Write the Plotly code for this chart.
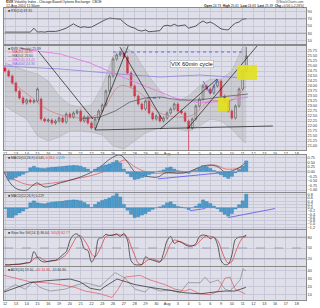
import plotly.graph_objects as go

W, H = 320, 308
L_M, R_M = 4, 14
PW = W - L_M - R_M

# ---------------- data ----------------
day_labels = ["12", "13", "14", "15", "16", "19", "20", "21", "22", "23", "26", "27", "28", "29", "30",
              "Aug", "3", "4", "5", "6", "9", "10", "11", "12", "13", "16", "17", "18"]

close = [24.75, 24.50, 24.15, 23.75, 23.40, 23.15, 23.30, 23.20, 23.25, 23.85,
         22.35, 22.25, 22.30, 22.15, 22.25, 22.40, 22.20, 22.60, 22.45, 22.65,
         22.75, 22.25, 22.45, 22.15, 21.90, 22.35, 22.75, 23.05, 23.75, 24.50,
         25.35, 25.55, 25.65, 25.45, 24.65, 24.00, 23.50, 23.10, 22.85, 23.25,
         22.65, 22.35, 22.50, 22.25, 22.40, 22.65, 22.85, 23.10, 22.75, 22.65,
         22.25, 21.90, 22.35, 23.00, 23.35, 24.00, 23.85, 23.65, 24.00, 24.25,
         23.50, 23.25, 22.75, 22.40, 23.00, 23.85, 24.75, 25.50]
first_open = 24.90
gap_open = {10: 23.35}
low_override = {51: 20.70}
high_override = {67: 25.95}
wick = 0.08

band_x = list(range(0, 67, 3)) + [67]
band_upper = [25.15, 24.95, 24.75, 24.60, 24.25, 23.50, 23.05, 22.95, 23.05, 24.00, 25.50, 25.95,
              25.65, 24.75, 24.00, 23.35, 23.25, 23.50, 24.00, 24.35, 24.35, 24.75, 25.95, 26.10]
band_lower = [23.00, 22.65, 22.35, 21.50, 21.25, 21.45, 21.75, 21.75, 21.70, 21.55, 21.00, 20.85,
              21.25, 21.65, 21.85, 21.95, 21.85, 21.75, 22.00, 22.35, 22.25, 21.85, 21.25, 21.15]

ma_pink_x = [4.2, 6.9, 15.3, 23.6, 31.9, 40.3, 47.2, 54.2, 61.1, 67.5]
ma_pink = [25.90, 25.80, 25.60, 25.15, 24.50, 23.90, 23.40, 23.15, 23.25, 23.45]
ma_lav_x = [-0.3, 15.3, 31.9, 43.1, 54.2, 62.5, 67.5]
ma_lav = [25.00, 24.85, 24.60, 24.45, 24.55, 24.45, 24.35]
ma_gray_x = [20.8, 26.4, 30.6, 34.7, 38.9, 43.1, 48.6, 54.2, 59.7, 67.5]
ma_gray = [22.35, 22.45, 22.75, 23.20, 23.40, 23.45, 23.30, 23.30, 23.45, 23.60]
ma_red_x = [1.4, 6.9, 12.5, 20.8, 26.4, 31.9, 37.5, 43.1, 51.4, 56.9, 62.5, 66.9]
ma_red = [24.25, 23.50, 22.75, 22.40, 22.65, 24.00, 23.65, 22.65, 22.50, 23.25, 23.25, 24.00]

rsi = [33, 33, 32, 31, 31, 32, 33, 33, 44, 33, 34, 33, 35, 34, 35, 37, 40, 44, 50, 56,
       50, 46, 48, 46, 47, 53, 58, 63, 68, 72, 71, 69, 69, 60, 52, 47, 44, 38, 36, 39,
       34, 35, 36, 37, 50, 52, 50, 55, 50, 52, 53, 44, 48, 50, 58, 64, 58, 61, 56, 48,
       42, 40, 39, 50, 58, 61, 69, 70]

macd_x = [-0.3, 1.4, 2.8, 4.2, 6.1, 7.8, 8.9, 11.1, 15.3, 19.4, 23.6, 26.4, 29.2, 31.9, 34.2,
          36.1, 38.9, 42.5, 44.4, 48.6, 50.8, 54.2, 56.9, 59.2, 61.1, 63.1, 65.3, 66.9]
macd = [-0.02, -0.61, -0.88, -0.99, -0.99, -0.72, -0.61, -0.83, -0.61, -0.39, -0.07, 0.25, 0.69,
        0.90, 0.47, -0.02, -0.23, -0.29, -0.07, -0.07, -0.02, 0.25, 0.36, 0.25, -0.02, 0.04, 0.25, 0.52]
signal_x = [-0.3, 2.8, 6.9, 11.1, 15.3, 19.4, 23.6, 27.8, 31.4, 33.3, 36.1, 40.3, 44.4, 50.0,
            54.2, 58.3, 61.1, 63.9, 66.9]
signal = [-0.02, -0.45, -0.72, -0.66, -0.56, -0.39, -0.23, 0.04, 0.47, 0.63, 0.25, -0.07, -0.07,
          -0.07, 0.20, 0.36, 0.15, 0.15, 0.31]

hist = [-0.05, -0.60, -0.60, -0.45, -0.32, -0.20, -0.05, 0.30, 0.42, 0.30,
        0.26, 0.24, 0.30, 0.34, 0.36, 0.38, 0.40, 0.44, 0.46, 0.48,
        0.47, 0.42, 0.32, 0.20, 0.02, 0.20, 0.34, 0.45, 0.52, 0.60,
        0.72, 0.86, 0.66, 0.20, -0.15, -0.40, -0.60, -0.55, -0.45, -0.36,
        -0.22, -0.10, 0.00, 0.06, 0.14, 0.30, 0.36, 0.20, 0.08, 0.04,
        -0.02, -0.12, 0.00, 0.10, 0.24, 0.48, 0.38, 0.26, 0.10, -0.06,
        -0.24, -0.40, -0.52, -0.36, -0.08, 0.18, 0.42, 0.83]

stoch_k = [3, 3, 4, 5, 5, 7, 9, 11, 40, 24, 14, 11, 13, 15, 16, 22, 31, 40, 70, 86,
           89, 78, 48, 43, 11, 27, 76, 79, 88, 85, 86, 89, 82, 90, 72, 15, 4, 3, 4, 25,
           20, 16, 13, 11, 35, 70, 82, 63, 68, 66, 59, 55, 56, 62, 82, 86, 84, 76, 80, 60,
           15, 4, 5, 30, 74, 80, 81, 86]
stoch_d = [4, 3, 4, 4, 5, 6, 8, 10, 20, 25, 22, 15, 12, 14, 15, 18, 24, 32, 48, 66,
           82, 84, 72, 56, 34, 26, 40, 62, 82, 85, 86, 87, 86, 86, 80, 55, 30, 8, 4, 12,
           18, 20, 16, 13, 20, 40, 62, 72, 70, 66, 62, 58, 56, 58, 68, 78, 84, 82, 80, 72,
           48, 22, 8, 12, 38, 62, 78, 82]

pdi_x = [-0.3, 4.2, 6.9, 11.1, 15.3, 19.4, 22.2, 26.4, 29.7, 31.4, 33.3, 37.5, 40.3, 44.4,
         47.2, 50.0, 51.4, 54.2, 56.9, 59.2, 61.1, 62.5, 63.9, 66.7]
pdi = [34.4, 29.7, 26.2, 25.0, 22.6, 19.1, 14.4, 10.9, 6.2, 16.8, 32.1, 34.4, 28.5, 22.6,
       16.8, 14.4, 16.8, 10.9, 9.7, 14.4, 30.9, 32.1, 16.8, 10.9]
adx_x = [-0.3, 4.2, 6.9, 11.1, 15.3, 18.1, 20.8, 23.6, 26.4, 27.8, 31.1, 33.3, 36.1, 40.3,
         44.4, 47.2, 50.0, 54.2, 58.3, 61.1, 63.9, 66.9]
adx = [13.2, 20.3, 25.0, 27.4, 28.5, 29.7, 26.2, 18.0, 15.6, 20.3, 29.7, 26.2, 22.6, 19.1,
       16.8, 14.4, 12.1, 10.9, 13.2, 14.4, 14.4, 19.1]
mdi_x = [-0.3, 2.8, 5.6, 7.8, 9.7, 12.5, 16.7, 19.4, 22.2, 26.4, 29.2, 30.6, 33.3, 36.1, 38.9,
         40.3, 43.1, 45.8, 48.6, 50.8, 54.2, 55.6, 56.9, 59.2, 61.1, 62.5, 65.3, 66.1, 66.9]
mdi = [14.4, 22.6, 16.8, 26.2, 19.1, 14.4, 16.8, 21.5, 25.0, 20.3, 32.1, 37.9, 30.9, 16.8, 13.2,
       19.1, 14.4, 15.6, 12.1, 25.0, 25.0, 32.1, 25.0, 28.5, 16.8, 14.4, 28.5, 42.6, 40.3]

# ---------------- derived candle OHLC ----------------
bars = list(range(len(close)))
open_ = [first_open] + close[:-1]
for k, v in gap_open.items():
    open_[k] = v
high = [max(o, c) + wick for o, c in zip(open_, close)]
low = [min(o, c) - wick for o, c in zip(open_, close)]
for k, v in low_override.items():
    low[k] = v
for k, v in high_override.items():
    high[k] = v

tick_idx = [3 * k for k in range(len(day_labels))]
XR = [-0.3, 83.6]


def py(px):
    return 1 - px / H


def pxx(px):
    return (px - L_M) / PW


BG = "#dfdfea"
GRID = "#c8c8d8"
TF = dict(size=3.8, color="#333333", family="Arial")

fig = go.Figure()

# RSI panel
fig.add_trace(go.Scatter(x=bars, y=rsi, mode="lines", line=dict(color="#333333", width=0.8),
                         xaxis="x", yaxis="y"))

# main panel
fig.add_trace(go.Scatter(x=band_x, y=band_upper, mode="lines", line=dict(color="#a8a8a8", width=0.5),
                         xaxis="x2", yaxis="y2"))
fig.add_trace(go.Scatter(x=band_x, y=band_lower, mode="lines", line=dict(color="#a8a8a8", width=0.5),
                         fill="tonexty", fillcolor="rgba(170,170,170,0.35)", xaxis="x2", yaxis="y2"))
fig.add_trace(go.Scatter(x=ma_lav_x, y=ma_lav, mode="lines", line=dict(color="#9a8ae0", width=0.9),
                         xaxis="x2", yaxis="y2"))
fig.add_trace(go.Scatter(x=ma_pink_x, y=ma_pink, mode="lines", line=dict(color="#e27be2", width=0.9),
                         xaxis="x2", yaxis="y2"))
fig.add_trace(go.Scatter(x=ma_gray_x, y=ma_gray, mode="lines", line=dict(color="#606060", width=0.8),
                         xaxis="x2", yaxis="y2"))
fig.add_trace(go.Scatter(x=ma_red_x, y=ma_red, mode="lines", line=dict(color="#d06060", width=0.5),
                         line_shape="spline", xaxis="x2", yaxis="y2"))
fig.add_trace(go.Candlestick(x=bars, open=open_, high=high, low=low, close=close,
                             increasing=dict(line=dict(color="#222222", width=0.6), fillcolor="#f0f0f0"),
                             decreasing=dict(line=dict(color="#e0001c", width=0.6), fillcolor="#e0001c"),
                             whiskerwidth=0, xaxis="x2", yaxis="y2"))

# MACD panel
fig.add_trace(go.Bar(x=bars, y=hist, marker=dict(color="#4a9ccc", line=dict(color="#2a6a98", width=0.3)),
                     width=0.9, xaxis="x3", yaxis="y7"))
fig.add_trace(go.Scatter(x=signal_x, y=signal, mode="lines", line=dict(color="#e05050", width=0.7),
                         line_shape="spline", xaxis="x3", yaxis="y3"))
fig.add_trace(go.Scatter(x=macd_x, y=macd, mode="lines", line=dict(color="#333333", width=0.7),
                         line_shape="spline", xaxis="x3", yaxis="y3"))

# histogram panel
fig.add_trace(go.Bar(x=bars, y=hist, marker=dict(color="#4a9ccc", line=dict(color="#2a6a98", width=0.3)),
                     width=0.9, xaxis="x4", yaxis="y4"))

# stochastics
fig.add_trace(go.Scatter(x=bars, y=stoch_d, mode="lines", line=dict(color="#e03030", width=0.7),
                         line_shape="spline", xaxis="x5", yaxis="y5"))
fig.add_trace(go.Scatter(x=bars, y=stoch_k, mode="lines", line=dict(color="#222222", width=0.7),
                         line_shape="spline", xaxis="x5", yaxis="y5"))

# ADX / DI
fig.add_trace(go.Scatter(x=mdi_x, y=mdi, mode="lines", line=dict(color="#777777", width=0.6),
                         xaxis="x6", yaxis="y6"))
fig.add_trace(go.Scatter(x=pdi_x, y=pdi, mode="lines", line=dict(color="#e04040", width=0.6),
                         xaxis="x6", yaxis="y6"))
fig.add_trace(go.Scatter(x=adx_x, y=adx, mode="lines", line=dict(color="#222222", width=0.7),
                         xaxis="x6", yaxis="y6"))

# ---------------- layout ----------------
panels = {  # pixel top/bottom
    1: (8, 44), 2: (46, 150), 3: (155, 192), 4: (193, 229), 5: (230, 266), 6: (267, 300)}


def xax(anchor, show):
    return dict(domain=[0, 1], range=XR, anchor=anchor, tickvals=tick_idx, ticktext=day_labels,
                showticklabels=show, showgrid=True, gridcolor=GRID, gridwidth=0.5, zeroline=False,
                showline=True, mirror=True, linecolor="#8a8a8a", linewidth=0.6, ticks="",
                tickfont=TF, fixedrange=True, rangeslider=dict(visible=False), automargin=False)


def yax(i, rng, tv, fmt=None):
    t, b = panels[i]
    d = dict(domain=[py(b), py(t)], range=rng, side="right", tickvals=tv, showgrid=True, gridcolor=GRID,
             gridwidth=0.5, zeroline=False, showline=True, mirror=True, linecolor="#8a8a8a",
             linewidth=0.6, ticks="", tickfont=TF, fixedrange=True, automargin=False)
    if fmt:
        d["tickformat"] = fmt
    return d


main_ticks = [21.0 + 0.25 * k for k in range(20)]
layout = dict(
    width=W, height=H, margin=dict(l=L_M, r=R_M, t=0, b=0), paper_bgcolor="white", plot_bgcolor=BG,
    showlegend=False, bargap=0.1,
    xaxis=xax("y", False), xaxis2=xax("y2", True), xaxis3=xax("y3", False),
    xaxis4=xax("y4", False), xaxis5=xax("y5", False), xaxis6=xax("y6", True),
    yaxis=yax(1, [0, 100], [10, 30, 50, 70, 90]),
    yaxis2=yax(2, [20.8, 26.0], main_ticks, ".2f"),
    yaxis3=yax(3, [-1.1, 0.9], [-1.0, -0.75, -0.5, -0.25, 0, 0.25, 0.5, 0.75], ".2f"),
    yaxis4=yax(4, [-1.3, 0.9], [-1.2, -1.0, -0.8, -0.6, -0.4, -0.2, 0, 0.2, 0.4, 0.6, 0.8], ".1f"),
    yaxis5=yax(5, [0, 100], [20, 50, 80]),
    yaxis6=yax(6, [3, 45], [10, 20, 30, 40]),
    yaxis7=dict(overlaying="y3", range=[-1.56, 1.28], visible=False, fixedrange=True),
)
fig.update_layout(**layout)

shapes = []
# reference levels
for yref, lv, dash in [("y", 70, "solid"), ("y", 30, "solid"), ("y5", 80, "solid"),
                       ("y5", 20, "solid"), ("y5", 50, "dash")]:
    shapes.append(dict(type="line", xref="x", yref=yref, x0=XR[0], x1=XR[1], y0=lv, y1=lv,
                       line=dict(color="#8a8a9a", width=0.7, dash=dash)))
shapes.append(dict(type="line", xref="x", yref="y3", x0=XR[0], x1=XR[1], y0=0, y1=0,
                   line=dict(color="#9a9aaa", width=0.4)))

# chartist drawings on main panel
for (x0, y0, x1, y1) in [(9.2, 25.75, 24.4, 22.35), (25.0, 21.80, 74.4, 22.00),
                         (25.0, 21.80, 34.2, 26.00), (31.9, 25.95, 43.6, 22.35),
                         (50.6, 21.85, 70.0, 26.00), (43.1, 21.85, 58.9, 24.35)]:
    shapes.append(dict(type="line", xref="x2", yref="y2", x0=x0, y0=y0, x1=x1, y1=y1,
                       line=dict(color="#1a1a1a", width=0.7)))
for (x0, y0, x1, y1) in [(55.0, 24.25, 57.0, 23.60), (57.0, 23.60, 59.0, 24.35)]:
    shapes.append(dict(type="line", xref="x2", yref="y2", x0=x0, y0=y0, x1=x1, y1=y1,
                       line=dict(color="#3a50e0", width=0.7)))
shapes.append(dict(type="line", xref="x2", yref="y2", x0=30.0, x1=66.1, y0=25.70, y1=25.70,
                   line=dict(color="#5a5ae8", width=0.9, dash="dot")))
shapes.append(dict(type="line", xref="x2", yref="y2", x0=39.4, x1=43.1, y0=23.40, y1=23.40,
                   line=dict(color="#3a3ae0", width=0.9, dash="dot")))
shapes.append(dict(type="rect", xref="x2", yref="y2", x0=64.4, x1=70.0, y0=24.30, y1=25.05,
                   fillcolor="#e2e21a", line=dict(width=0), layer="above", opacity=0.9))
shapes.append(dict(type="rect", xref="x2", yref="y2", x0=59.2, x1=62.2, y0=22.75, y1=23.40,
                   fillcolor="#e2e21a", line=dict(width=0), layer="above", opacity=0.9))
# MACD and histogram trendlines
shapes.append(dict(type="line", xref="x3", yref="y3", x0=42.5, x1=59.7, y0=-0.39, y1=-0.07,
                   line=dict(color="#5a50e8", width=0.8)))
shapes.append(dict(type="line", xref="x4", yref="y4", x0=51.4, x1=55.6, y0=-0.18, y1=-0.05,
                   line=dict(color="#5a50e8", width=0.8)))
shapes.append(dict(type="line", xref="x4", yref="y4", x0=62.0, x1=75.0, y0=-0.60, y1=-0.05,
                   line=dict(color="#5a50e8", width=0.8)))
fig.update_layout(shapes=shapes)

ann = []


def note(px_x, px_y, text, color="#333333", size=3.6, anchor="left"):
    ann.append(dict(x=pxx(px_x), y=py(px_y), xref="paper", yref="paper", text=text, showarrow=False,
                    xanchor=anchor, yanchor="middle", font=dict(size=size, color=color, family="Arial")))


note(4, 2.5, "<b>$VIX</b> Volatility Index - Chicago Board Options Exchange  CBOE", "#222222", 3.4)
note(4, 6.5, "12-Aug-2010 11:30am", "#222222", 3.4)
note(306, 2.5, "@StockCharts.com", "#444444", 3.2, "right")
note(306, 6.5, "<b>Open</b> 24.73  <b>High</b> 25.61  <b>Low</b> 24.63  <b>Last</b> 25.39  <b>Chg</b> +0.56 (+2.26%)",
     "#222222", 3.2, "right")
note(6, 11, "■ RSI(14) 69.35", "#333333", 3.4)
note(6, 48.5, "■ $VIX (Hourly) 25.39", "#333333", 3.4)
note(6, 52.5, "— MA(20) 24.01", "#d04040", 3.4)
note(6, 56.5, "— MA(50) 23.60", "#555555", 3.4)
note(6, 60.5, "— MA(200) 23.45", "#d060d0", 3.4)
note(6, 64.5, "— MA(400) 24.36", "#7a6ad8", 3.4)
note(6, 158, "■ MACD(12,26,9) 0.541, <span style='color:#e03030'>0.312</span>, "
             "<span style='color:#3a8cc4'>0.229</span>", "#333333", 3.4)
note(6, 196, "■ MACD(12,26,9) 0.229", "#333333", 3.4)
note(6, 233, "■ Slow Sto %K(14,3) 86.04, <span style='color:#e03030'>%D(3) 82.77</span>", "#333333", 3.4)
note(6, 270, "■ ADX(14) 19.10, <span style='color:#e03030'>+DI 10.90</span>, -DI 40.30", "#333333", 3.4)

ann.append(dict(x=51.8, y=25.125, xref="x2", yref="y2", text="VIX 60min cycle", showarrow=False,
                font=dict(size=5.8, color="#111111", family="Arial"), bgcolor="white",
                bordercolor="#999999", borderwidth=0.5, borderpad=0.6))
fig.update_layout(annotations=ann)

fig.write_html("out.html")
